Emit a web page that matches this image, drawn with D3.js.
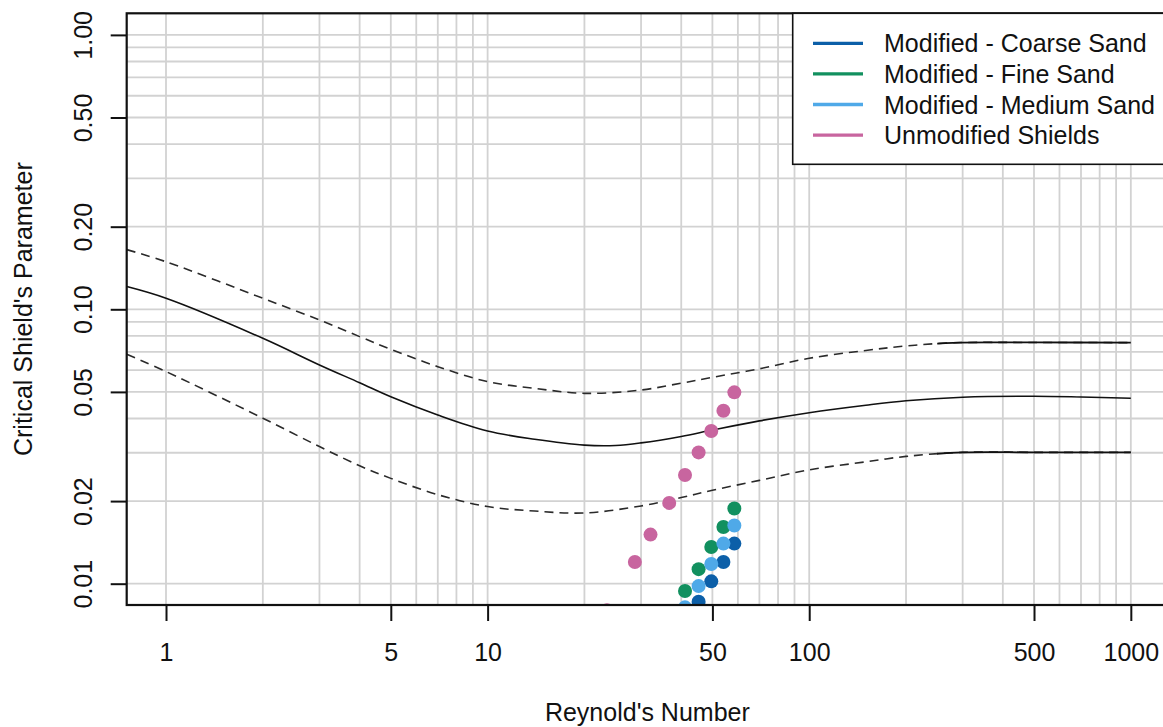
<!DOCTYPE html>
<html>
<head>
<meta charset="utf-8">
<script src="https://cdn.jsdelivr.net/npm/d3@7"></script>
<style>
  html, body { margin: 0; padding: 0; background: #fff; }
  svg { display: block; }
  text { font-family: "Liberation Sans", Arial, Helvetica, sans-serif; fill: #111; }
</style>
</head>
<body>
<svg id="chart" width="1163" height="727"></svg>
<script>
// Shields curve (mean) and its upper / lower envelopes: [Reynolds number, critical Shields parameter]
const shieldsMean = [
  [0.755, 0.121], [1, 0.1097], [2, 0.0784], [3, 0.0627], [4, 0.0540], [5, 0.0480],
  [7, 0.0412], [10, 0.0360], [14, 0.0336], [20, 0.0320], [25, 0.0319], [30, 0.0326],
  [40, 0.0344], [50, 0.0363], [70, 0.0392], [100, 0.0420], [150, 0.0447], [200, 0.0464],
  [300, 0.0478], [500, 0.0482], [700, 0.0479], [1000, 0.0474]
];
const shieldsUpper = [
  [0.755, 0.165], [1, 0.149], [2, 0.1097], [3, 0.0914], [4, 0.0795], [5, 0.0715],
  [7, 0.0618], [10, 0.0545], [14, 0.0515], [20, 0.0494], [30, 0.0508], [40, 0.0538],
  [50, 0.0565], [70, 0.0607], [100, 0.0663], [150, 0.0708], [200, 0.0735], [280, 0.0755],
  [500, 0.0757], [1000, 0.0756]
];
const shieldsLower = [
  [0.755, 0.0686], [1, 0.0593], [2, 0.0401], [3, 0.0316], [4, 0.0269], [5, 0.0242],
  [7, 0.0211], [10, 0.0191], [14, 0.0184], [20, 0.0181], [30, 0.0192], [40, 0.0206],
  [50, 0.0219], [70, 0.0238], [100, 0.0260], [150, 0.0278], [200, 0.0291], [300, 0.0301],
  [500, 0.0301], [1000, 0.0301]
];

// Observed points per sediment class
const seriesNames = ["Modified - Coarse Sand", "Modified - Fine Sand", "Modified - Medium Sand", "Unmodified Shields"];
const seriesColors = ["#0c5fa8", "#12905f", "#4fa9e8", "#c8659f"];
const coarseRe = [45.3, 49.6, 54.1, 58.5];
const coarseTheta = [0.0086, 0.0102, 0.0120, 0.0140];
const fineRe = [41.1, 45.3, 49.6, 54.1, 58.5];
const fineTheta = [0.0094, 0.0113, 0.0136, 0.0161, 0.0188];
const mediumRe = [41.1, 45.3, 49.6, 54.1, 58.5];
const mediumTheta = [0.0082, 0.0098, 0.0118, 0.0140, 0.0163];
const unmodRe = [23.5, 28.7, 32.1, 36.7, 41.1, 45.3, 49.6, 54.1, 58.5];
const unmodTheta = [0.0080, 0.0120, 0.0151, 0.0197, 0.0249, 0.0301, 0.0360, 0.0427, 0.0498];

// Axes
const xDomain = [0.7547, 1305];
const yDomain = [0.008363, 1.1986];
const xTicks = [1, 5, 10, 50, 100, 500, 1000];
const yTicks = [0.01, 0.02, 0.05, 0.10, 0.20, 0.50, 1.00];
const xGrid = [1, 2, 3, 4, 5, 6, 7, 8, 9, 10, 20, 30, 40, 50, 60, 70, 80, 90, 100,
               200, 300, 400, 500, 600, 700, 800, 900, 1000];
const yGrid = [0.01, 0.02, 0.03, 0.04, 0.05, 0.06, 0.07, 0.08, 0.09, 0.1,
               0.2, 0.3, 0.4, 0.5, 0.6, 0.7, 0.8, 0.9, 1.0];
const xTitle = "Reynold's Number";
const yTitle = "Critical Shield's Parameter";

const plot = { left: 126.7, right: 1168, top: 13.3, bottom: 605 };
const dashEnd = 250;   // envelopes are drawn solid beyond this Reynolds number

const svg = d3.select("#chart");
const x = d3.scaleLog().domain(xDomain).range([plot.left, plot.right]);
const y = d3.scaleLog().domain(yDomain).range([plot.bottom, plot.top]);

const defs = svg.append("defs");
defs.append("clipPath").attr("id", "plotClip")
  .append("rect")
  .attr("x", plot.left).attr("y", plot.top)
  .attr("width", plot.right - plot.left).attr("height", plot.bottom - plot.top);
defs.append("clipPath").attr("id", "solidTail")
  .append("rect")
  .attr("x", x(dashEnd)).attr("y", plot.top)
  .attr("width", plot.right - x(dashEnd)).attr("height", plot.bottom - plot.top);

// Grid
const grid = svg.append("g").attr("clip-path", "url(#plotClip)")
  .attr("stroke", "#d2d2d2").attr("stroke-width", 1.8);
grid.selectAll("line.vx").data(xGrid).join("line")
  .attr("x1", d => x(d)).attr("x2", d => x(d))
  .attr("y1", plot.top).attr("y2", plot.bottom);
grid.selectAll("line.hy").data(yGrid).join("line")
  .attr("x1", plot.left).attr("x2", plot.right)
  .attr("y1", d => y(d)).attr("y2", d => y(d));

// Curves
const line = d3.line().x(d => x(d[0])).y(d => y(d[1])).curve(d3.curveCatmullRom.alpha(0.5));
const curves = svg.append("g").attr("clip-path", "url(#plotClip)").attr("fill", "none");
curves.append("path").attr("d", line(shieldsMean))
  .attr("stroke", "#111").attr("stroke-width", 1.6);
[shieldsUpper, shieldsLower].forEach(c => {
  curves.append("path").attr("d", line(c))
    .attr("stroke", "#2a2a2a").attr("stroke-width", 1.6)
    .attr("stroke-dasharray", "9,6");
  curves.append("g").attr("clip-path", "url(#solidTail)")
    .append("path").attr("d", line(c))
    .attr("stroke", "#111").attr("stroke-width", 1.8);
});

// Points
const pointSets = [
  [coarseRe, coarseTheta], [fineRe, fineTheta], [mediumRe, mediumTheta], [unmodRe, unmodTheta]
];
const pts = svg.append("g").attr("clip-path", "url(#plotClip)");
pointSets.forEach(([re, th], i) => {
  pts.append("g").attr("fill", seriesColors[i])
    .selectAll("circle").data(re.map((r, j) => [r, th[j]])).join("circle")
    .attr("cx", d => x(d[0])).attr("cy", d => y(d[1])).attr("r", 7);
});

// Axes
const xAxis = d3.axisBottom(x).tickValues(xTicks).tickFormat(d3.format("d"))
  .tickSize(16).tickSizeOuter(0);
const gx = svg.append("g").attr("transform", `translate(0,${plot.bottom})`).call(xAxis);
gx.select(".domain").remove();
gx.selectAll(".tick line").attr("stroke", "#111").attr("stroke-width", 2);
gx.selectAll(".tick text").attr("font-size", 25).attr("dy", null).attr("y", 56)
  .attr("fill", "#111").attr("font-family", "Liberation Sans, Arial, sans-serif");

const yAxis = d3.axisLeft(y).tickValues(yTicks).tickFormat(d3.format(".2f"))
  .tickSize(16).tickSizeOuter(0);
const gy = svg.append("g").attr("transform", `translate(${plot.left},0)`).call(yAxis);
gy.select(".domain").remove();
gy.selectAll(".tick line").attr("stroke", "#111").attr("stroke-width", 2);
gy.selectAll(".tick text")
  .attr("font-size", 25).attr("fill", "#111")
  .attr("font-family", "Liberation Sans, Arial, sans-serif")
  .attr("x", null).attr("dy", null).attr("text-anchor", "middle")
  .attr("transform", "translate(-35,0) rotate(-90)");

// Plot box
svg.append("rect")
  .attr("x", plot.left).attr("y", plot.top)
  .attr("width", plot.right - plot.left).attr("height", plot.bottom - plot.top)
  .attr("fill", "none").attr("stroke", "#111").attr("stroke-width", 2.2);

// Titles
svg.append("text").attr("x", (plot.left + plot.right) / 2).attr("y", 721)
  .attr("text-anchor", "middle").attr("font-size", 25).text(xTitle);
svg.append("text")
  .attr("transform", `translate(31.5,${(plot.top + plot.bottom) / 2}) rotate(-90)`)
  .attr("text-anchor", "middle").attr("font-size", 25).text(yTitle);

// Legend
const legend = svg.append("g");
legend.append("rect")
  .attr("x", 792.7).attr("y", plot.top)
  .attr("width", 400).attr("height", 151)
  .attr("fill", "#fff").attr("stroke", "#111").attr("stroke-width", 1.6);
const rows = legend.selectAll("g.row").data(seriesNames).join("g")
  .attr("transform", (d, i) => `translate(0,${43.3 + i * 30.6})`);
rows.append("line").attr("x1", 813).attr("x2", 863).attr("y1", 0).attr("y2", 0)
  .attr("stroke", (d, i) => seriesColors[i]).attr("stroke-width", 3.3);
rows.append("text").attr("x", 884).attr("y", 9).attr("font-size", 25).text(d => d);
</script>
</body>
</html>
